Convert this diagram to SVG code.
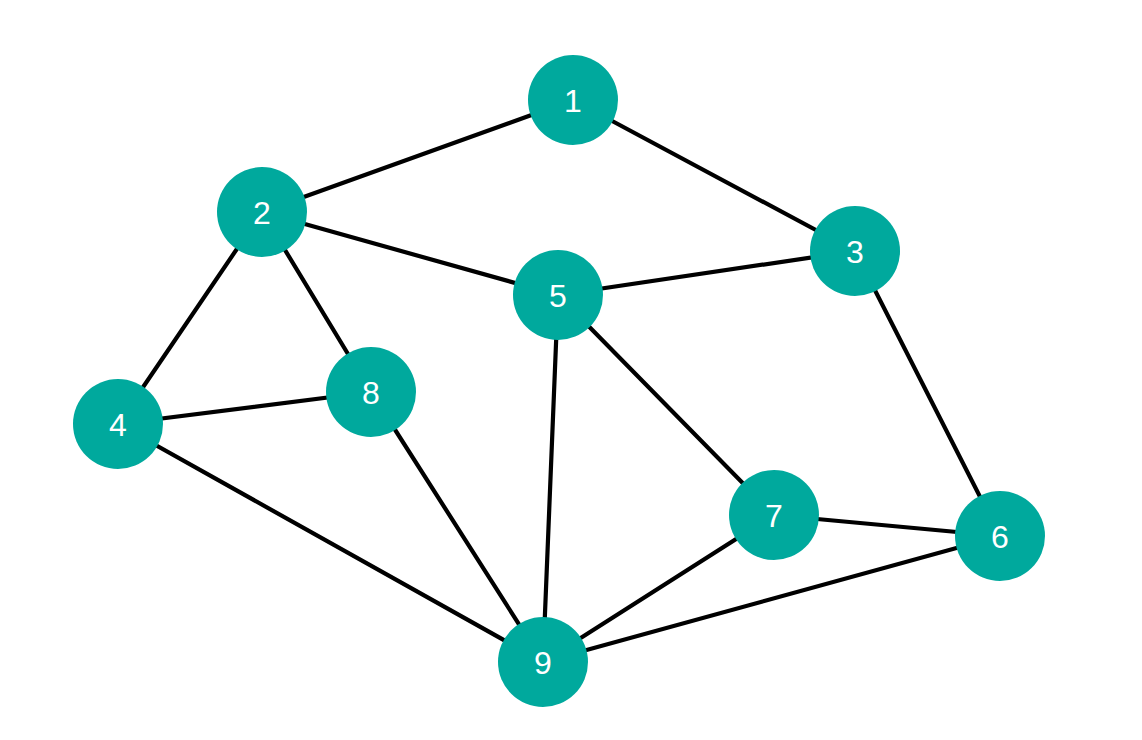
<svg xmlns="http://www.w3.org/2000/svg" width="1142" height="740" viewBox="0 0 1142 740">
<style>
.edge{stroke:#000;stroke-width:4.2;fill:none;stroke-linecap:round}
.node circle{fill:#00A99D}
.node text{fill:#fff;font-family:"Liberation Sans",Arial,sans-serif;font-size:32px;text-anchor:middle;dominant-baseline:central}
</style>
<rect width="1142" height="740" fill="#fff"/>
<g id="edges">
<line class="edge" x1="573" y1="100" x2="262" y2="212"/>
<line class="edge" x1="573" y1="100" x2="855" y2="251"/>
<line class="edge" x1="262" y1="212" x2="558" y2="295"/>
<line class="edge" x1="262" y1="212" x2="118" y2="424"/>
<line class="edge" x1="262" y1="212" x2="371" y2="392"/>
<line class="edge" x1="558" y1="295" x2="855" y2="251"/>
<line class="edge" x1="558" y1="295" x2="543" y2="662"/>
<line class="edge" x1="558" y1="295" x2="774" y2="515"/>
<line class="edge" x1="855" y1="251" x2="1000" y2="536"/>
<line class="edge" x1="118" y1="424" x2="371" y2="392"/>
<line class="edge" x1="118" y1="424" x2="543" y2="662"/>
<line class="edge" x1="371" y1="392" x2="543" y2="662"/>
<line class="edge" x1="774" y1="515" x2="1000" y2="536"/>
<line class="edge" x1="774" y1="515" x2="543" y2="662"/>
<line class="edge" x1="543" y1="662" x2="1000" y2="536"/>
</g>
<g id="node1" class="node"><circle cx="573" cy="100" r="45"/><text x="573" y="101">1</text></g>
<g id="node2" class="node"><circle cx="262" cy="212" r="45"/><text x="262" y="213">2</text></g>
<g id="node3" class="node"><circle cx="855" cy="251" r="45"/><text x="855" y="252">3</text></g>
<g id="node4" class="node"><circle cx="118" cy="424" r="45"/><text x="118" y="425">4</text></g>
<g id="node5" class="node"><circle cx="558" cy="295" r="45"/><text x="558" y="296">5</text></g>
<g id="node6" class="node"><circle cx="1000" cy="536" r="45"/><text x="1000" y="537">6</text></g>
<g id="node7" class="node"><circle cx="774" cy="515" r="45"/><text x="774" y="516">7</text></g>
<g id="node8" class="node"><circle cx="371" cy="392" r="45"/><text x="371" y="393">8</text></g>
<g id="node9" class="node"><circle cx="543" cy="662" r="45"/><text x="543" y="663">9</text></g>
</svg>
